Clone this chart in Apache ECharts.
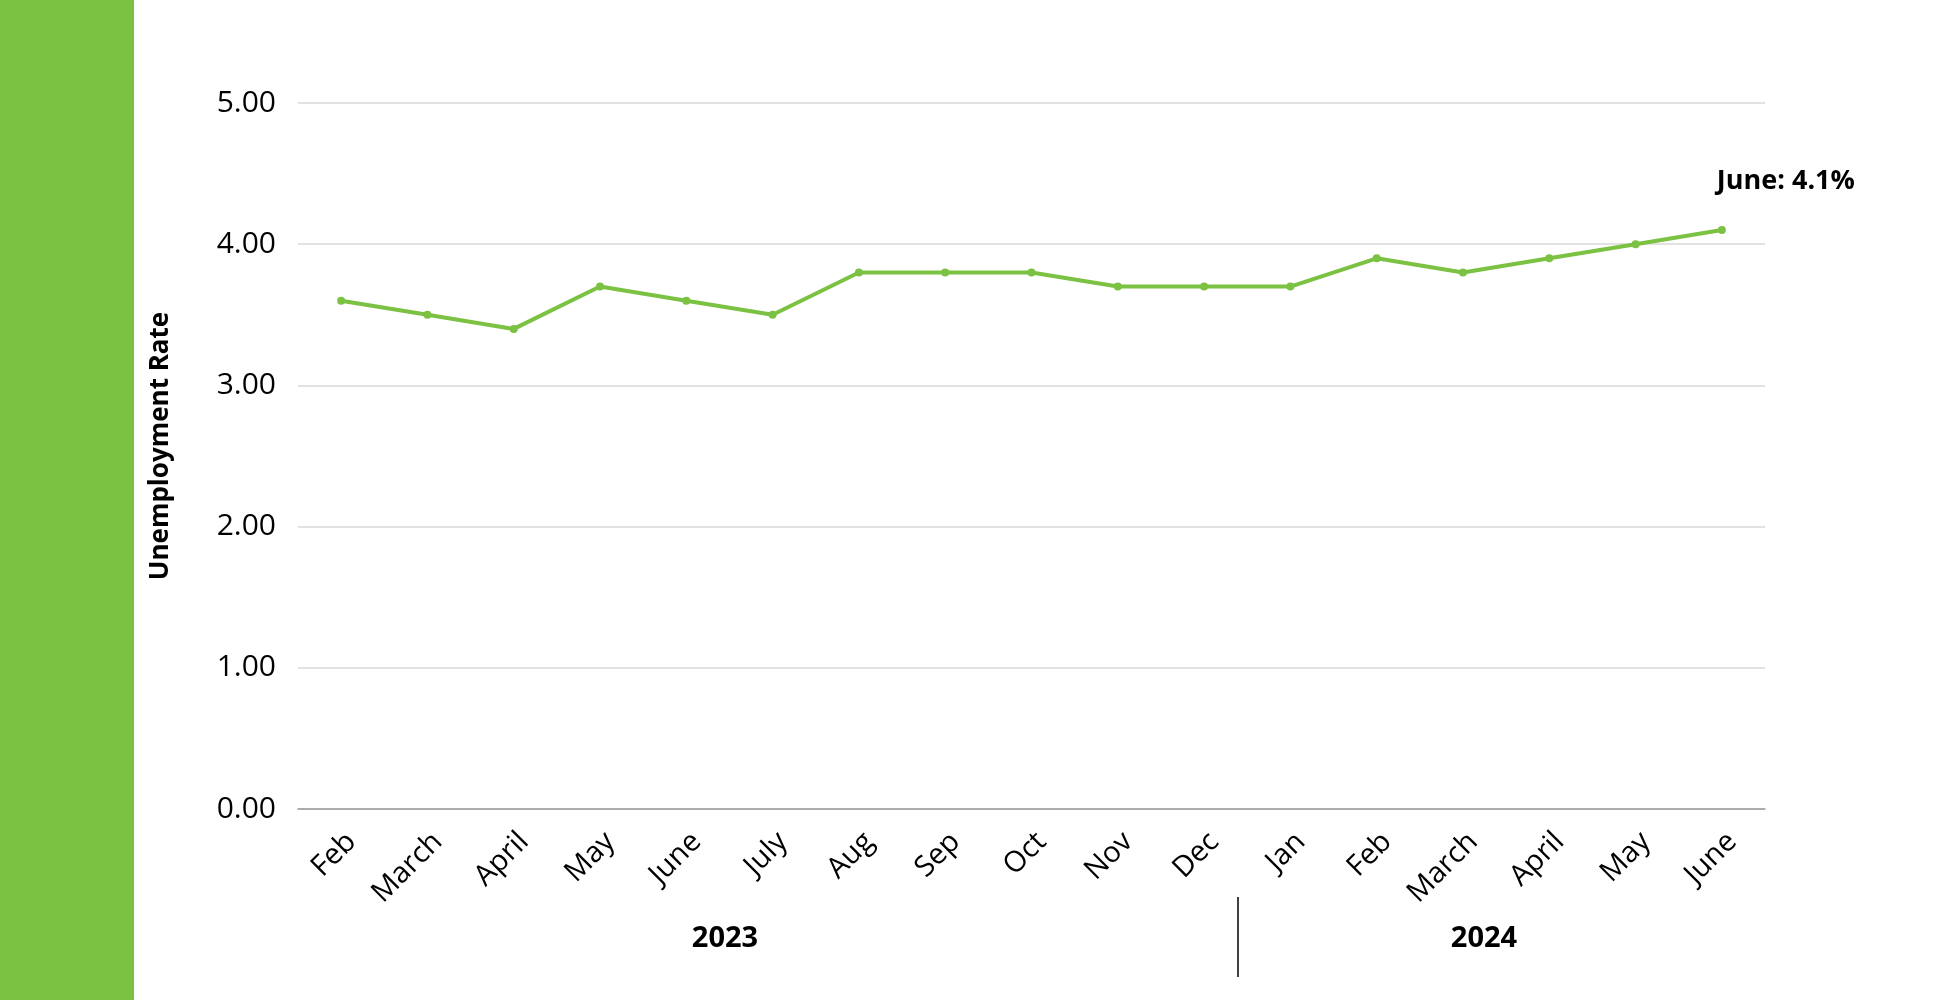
<!DOCTYPE html>
<html>
<head>
<meta charset="utf-8">
<script src="https://cdn.jsdelivr.net/npm/echarts@6/dist/echarts.min.js"></script>
<style>
  html, body { margin: 0; padding: 0; background: #fff; }
  #main { width: 1960px; height: 1000px; }
</style>
</head>
<body>
<div id="main"></div>
<script>
// months, Feb 2023 .. June 2024
var months = ['Feb', 'March', 'April', 'May', 'June', 'July', 'Aug', 'Sep', 'Oct', 'Nov', 'Dec',
              'Jan', 'Feb', 'March', 'April', 'May', 'June'];
var rates = [3.6, 3.5, 3.4, 3.7, 3.6, 3.5, 3.8, 3.8, 3.8, 3.7, 3.7, 3.7, 3.9, 3.8, 3.9, 4.0, 4.1];
var years = ['2023', '2024'];
var lastLabel = 'June: 4.1%';

var green = '#7bc142';
var font = 'Open Sans';

var chart = echarts.init(document.getElementById('main'));

var seriesData = rates.map(function (v, i) {
    if (i === rates.length - 1) {
        return {
            value: v,
            label: {
                show: true,
                position: 'top',
                distance: 0,
                offset: [64, -31],
                formatter: lastLabel,
                fontFamily: font,
                fontWeight: 'bold',
                fontSize: 27,
                color: '#000'
            }
        };
    }
    return v;
});

chart.setOption({
    backgroundColor: '#fff',
    animation: false,
    grid: { left: 298, right: 195, top: 103, bottom: 191 },
    xAxis: {
        type: 'category',
        data: months,
        boundaryGap: true,
        axisLine: { lineStyle: { color: '#9a9a9a', width: 1.5 } },
        axisTick: { show: false },
        axisLabel: {
            rotate: 45,
            margin: 18,
            interval: 0,
            verticalAlign: 'top',
            fontFamily: font,
            fontSize: 29,
            color: '#000'
        }
    },
    yAxis: {
        type: 'value',
        min: 0,
        max: 5,
        interval: 1,
        name: 'Unemployment Rate',
        nameLocation: 'middle',
        nameRotate: 90,
        nameGap: 124,
        nameTextStyle: {
            fontFamily: font,
            fontWeight: 'bold',
            fontSize: 26,
            color: '#000',
            padding: [0, 0, 0, 20]
        },
        axisLine: { show: false },
        axisTick: { show: false },
        splitLine: { lineStyle: { color: '#d9d9d9', width: 1.5 } },
        axisLabel: {
            margin: 22,
            fontFamily: font,
            fontSize: 30,
            color: '#000',
            formatter: function (v) { return v.toFixed(2); }
        }
    },
    series: [{
        type: 'line',
        data: seriesData,
        symbol: 'circle',
        symbolSize: 8,
        lineStyle: { color: green, width: 4 },
        itemStyle: { color: green }
    }],
    graphic: [
        { type: 'rect', left: 0, top: 0, shape: { width: 134, height: 1000 }, style: { fill: green } },
        { type: 'line', shape: { x1: 1238, y1: 897, x2: 1238, y2: 977 }, style: { stroke: '#000', lineWidth: 1.5 } },
        { type: 'text', x: 725, y: 939, style: { text: years[0], font: 'bold 29px "Open Sans"', fill: '#000', align: 'center', verticalAlign: 'middle' } },
        { type: 'text', x: 1484, y: 939, style: { text: years[1], font: 'bold 29px "Open Sans"', fill: '#000', align: 'center', verticalAlign: 'middle' } }
    ]
});
</script>
</body>
</html>
